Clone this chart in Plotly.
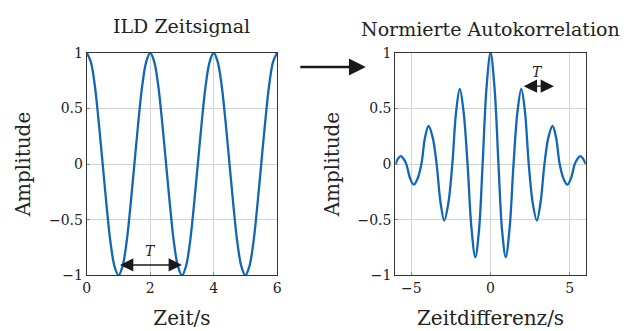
import plotly.graph_objects as go

# Left: ILD time signal
t_vals = [0, 0.125, 0.25, 0.375, 0.5, 0.625, 0.75, 0.875, 1.0, 1.125, 1.25, 1.375, 1.5, 1.625, 1.75, 1.875,
          2.0, 2.125, 2.25, 2.375, 2.5, 2.625, 2.75, 2.875, 3.0, 3.125, 3.25, 3.375, 3.5, 3.625, 3.75, 3.875,
          4.0, 4.125, 4.25, 4.375, 4.5, 4.625, 4.75, 4.875, 5.0, 5.125, 5.25, 5.375, 5.5, 5.625, 5.75, 5.875, 6.0]
sig_vals = [1.0, 0.92, 0.71, 0.38, 0.0, -0.38, -0.71, -0.92, -1.0, -0.92, -0.71, -0.38, 0.0, 0.38, 0.71, 0.92,
            1.0, 0.92, 0.71, 0.38, 0.0, -0.38, -0.71, -0.92, -1.0, -0.92, -0.71, -0.38, 0.0, 0.38, 0.71, 0.92,
            1.0, 0.92, 0.71, 0.38, 0.0, -0.38, -0.71, -0.92, -1.0, -0.92, -0.71, -0.38, 0.0, 0.38, 0.71, 0.92, 1.0]

# Right: normalised autocorrelation
tau_vals = [-6.0, -5.85, -5.66, -5.5, -5.31, -5.07, -4.84, -4.6, -4.36, -4.13, -3.91,
            -3.65, -3.40, -3.15, -2.92, -2.66, -2.41, -2.17, -1.94, -1.7, -1.45, -1.2,
            -0.96, -0.73, -0.5, -0.25, 0.0, 0.25, 0.5, 0.73, 0.96, 1.2, 1.45, 1.7, 1.94,
            2.17, 2.41, 2.66, 2.92, 3.15, 3.40, 3.65, 3.91, 4.13, 4.36, 4.6, 4.84, 5.07,
            5.31, 5.5, 5.66, 5.85, 6.0]
acf_vals = [0.0, 0.045, 0.071, 0.05, 0.0, -0.13, -0.185, -0.13, 0.0, 0.24, 0.342,
            0.24, 0.0, -0.35, -0.507, -0.35, 0.0, 0.47, 0.675, 0.47, 0.0, -0.58,
            -0.835, -0.6, 0.0, 0.69, 1.0, 0.69, 0.0, -0.6, -0.835, -0.58, 0.0, 0.47, 0.675,
            0.47, 0.0, -0.35, -0.507, -0.35, 0.0, 0.24, 0.342, 0.24, 0.0, -0.13, -0.185,
            -0.13, 0.0, 0.05, 0.071, 0.045, 0.0]

left_xticks = [0, 2, 4, 6]
right_xticks = [-5, 0, 5]
right_xticktext = ["\u22125", "0", "5"]
y_ticks = [-1, -0.5, 0, 0.5, 1]
y_ticktext = ["\u22121", "\u22120.5", "0", "0.5", "1"]

LINE = "#1166b5"
FONT = "DejaVu Serif"
GRID = "#d4d4d4"
TXT = "#222222"
TITLE_SIZE = 19
AXTITLE_SIZE = 20
TICK_SIZE = 14

fig = go.Figure()
fig.add_trace(go.Scatter(x=t_vals, y=sig_vals, mode="lines",
                         line=dict(color=LINE, width=2.3, shape="spline", smoothing=1.0),
                         xaxis="x", yaxis="y", showlegend=False, hoverinfo="skip"))
fig.add_trace(go.Scatter(x=tau_vals, y=acf_vals, mode="lines",
                         line=dict(color=LINE, width=2.3, shape="spline", smoothing=1.0),
                         xaxis="x2", yaxis="y2", showlegend=False, hoverinfo="skip"))

W, H = 638, 331
ydom = [50 / H, 284 / H]

common_ax = dict(showgrid=True, gridcolor=GRID, gridwidth=1, zeroline=False, showline=True, linecolor="#333333",
                 linewidth=1.2, mirror=True, ticks="inside", ticklen=3, tickcolor="#888888",
                 tickfont=dict(family=FONT, size=TICK_SIZE, color=TXT))

fig.update_layout(
    width=W, height=H, margin=dict(l=0, r=0, t=0, b=0),
    plot_bgcolor="white", paper_bgcolor="white",
    font=dict(family=FONT, color=TXT),
    xaxis=dict(domain=[84 / W, 277 / W], range=[0, 6], tickvals=left_xticks, anchor="y",
               title=dict(text="Zeit/s", font=dict(family=FONT, size=AXTITLE_SIZE, color=TXT), standoff=15), **common_ax),
    yaxis=dict(domain=ydom, range=[-1, 1], tickvals=y_ticks, ticktext=y_ticktext, anchor="x",
               title=dict(text="Amplitude", font=dict(family=FONT, size=AXTITLE_SIZE, color=TXT), standoff=12), **common_ax),
    xaxis2=dict(domain=[397 / W, 590 / W], range=[-6, 6], tickvals=right_xticks, ticktext=right_xticktext, anchor="y2",
                title=dict(text="Zeitdifferenz/s", font=dict(family=FONT, size=AXTITLE_SIZE, color=TXT), standoff=15), **common_ax),
    yaxis2=dict(domain=ydom, range=[-1, 1], tickvals=y_ticks, ticktext=y_ticktext, anchor="x2",
                title=dict(text="Amplitude", font=dict(family=FONT, size=AXTITLE_SIZE, color=TXT), standoff=12), **common_ax),
)

annotations = [
    dict(text="ILD Zeitsignal", x=180 / W, y=1 - 19 / H, xref="paper", yref="paper", showarrow=False,
         font=dict(family=FONT, size=TITLE_SIZE, color=TXT), xanchor="center", yanchor="middle"),
    dict(text="Normierte Autokorrelation", x=493 / W, y=1 - 22 / H, xref="paper", yref="paper", showarrow=False,
         font=dict(family=FONT, size=TITLE_SIZE, color=TXT), xanchor="center", yanchor="middle"),
    # big arrow between panels
    dict(x=367 / W, y=1 - 62 / H, xref="paper", yref="paper", ax=-67, ay=0, axref="pixel", ayref="pixel",
         showarrow=True, arrowhead=2, arrowsize=1.3, arrowwidth=2.6, arrowcolor="#1a1a1a", text=""),
    # T arrows
    dict(x=3, y=-0.906, ax=1, ay=-0.906, xref="x", yref="y", axref="x", ayref="y", showarrow=True,
         arrowhead=2, arrowside="end+start", arrowsize=1.9, arrowwidth=1.4, arrowcolor="#1a1a1a", text=""),
    dict(text="<i>T</i>", x=2, y=-0.78, xref="x", yref="y", showarrow=False,
         font=dict(family=FONT, size=14, color=TXT)),
    dict(x=4, y=0.70, ax=2, ay=0.70, xref="x2", yref="y2", axref="x2", ayref="y2", showarrow=True,
         arrowhead=2, arrowside="end+start", arrowsize=1.9, arrowwidth=1.4, arrowcolor="#1a1a1a", text=""),
    dict(text="<i>T</i>", x=2.97, y=0.83, xref="x2", yref="y2", showarrow=False,
         font=dict(family=FONT, size=14, color=TXT)),
]
fig.update_layout(annotations=annotations)

fig.write_html("out.html")
